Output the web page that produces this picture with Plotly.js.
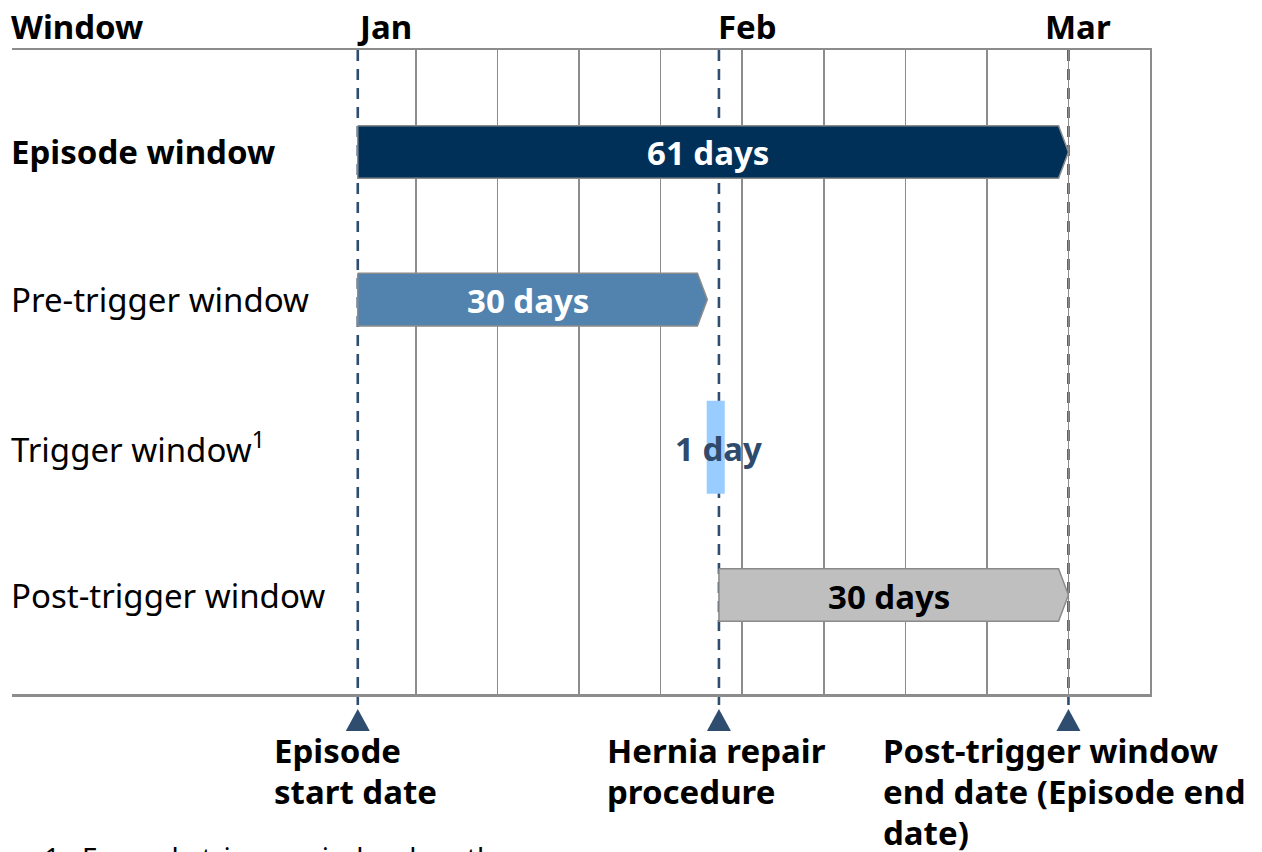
<!DOCTYPE html>
<html>
<head>
<meta charset="utf-8">
<script src="https://cdn.plot.ly/plotly-3.0.1.min.js"></script>
<style>html,body{margin:0;padding:0;background:#fff;}#chart{width:1262px;height:852px;}</style>
</head>
<body>
<div id="chart"></div>
<script>
// ---- data ----
const categories = ['<b>Episode window</b>', 'Pre-trigger window', 'Trigger window<sup>1</sup>', 'Post-trigger window'];
const startDay = [0, 0, 29.95, 31];
const endDay = [61, 30, 31.5, 61];
const barLabels = ['61 days', '30 days', '1 day', '30 days'];
const hasArrow = [true, true, false, true];
const monthNames = ['Jan', 'Feb', 'Mar'];
const monthLabelDay = [0, 31, 59.1];
const markerDays = [0, 31, 61];
const markerLabels = ['Episode<br>start date', 'Hernia repair<br>procedure', 'Post-trigger window<br>end date (Episode end<br>date)'];
const gridDays = [5, 12, 19, 26, 33, 40, 47, 54, 61, 68];
const footnote = '1.  Example trigger window length';

// ---- styles ----
const fillColors = ['#003057', '#5283af', '#99ccff', '#bfbfbf'];
const lineColors = ['#8a8a8a', '#8a8a8a', 'rgba(0,0,0,0)', '#8a8a8a'];
const labelColors = ['#ffffff', '#ffffff', '#2e4a6c', '#000000'];
const halfH = [0.178, 0.178, 0.315, 0.178];
const tip = 0.85;
const FONT = 'Noto Sans';
const FS = 33;
const navy = '#2f4d6f';

const traces = [];
for (let i = 0; i < categories.length; i++) {
  const s = startDay[i], e = endDay[i], h = halfH[i];
  const t = hasArrow[i] ? tip : 0;
  const xs = hasArrow[i] ? [s, e - t, e, e - t, s, s] : [s, e, e, s, s];
  const ys = hasArrow[i] ? [i - h, i - h, i, i + h, i + h, i - h] : [i - h, i - h, i + h, i + h, i - h];
  traces.push({
    type: 'scatter', mode: 'lines', x: xs, y: ys, fill: 'toself',
    fillcolor: fillColors[i], line: {color: lineColors[i], width: 1.5},
    hoverinfo: 'skip', showlegend: false
  });
}

const shapes = [];
const yBottomPaper = -(705 - 694) / 644;
markerDays.forEach(d => {
  shapes.push({type: 'line', xref: 'x', yref: 'paper', x0: d, x1: d, y0: 1, y1: yBottomPaper,
    line: {color: navy, width: 2.6, dash: '11px,8px'}, layer: 'below'});
  const yb = -(731 - 694) / 644, yt = -(709 - 694) / 644, w = 1.03;
  shapes.push({type: 'path', xref: 'x', yref: 'paper',
    path: `M ${d - w},${yb} L ${d + w},${yb} L ${d},${yt} Z`,
    fillcolor: navy, line: {width: 0}, layer: 'above'});
});

const annotations = [];
// bar labels
for (let i = 0; i < categories.length; i++) {
  const t = hasArrow[i] ? tip : 0;
  annotations.push({xref: 'x', yref: 'y', x: (startDay[i] + endDay[i] - t) / 2 + (hasArrow[i] ? 0 : 0.2), y: i,
    xanchor: 'center', yanchor: 'middle', yshift: -1, showarrow: false,
    text: '<b>' + barLabels[i] + '</b>', font: {family: FONT, size: FS, color: labelColors[i]}});
}
annotations.push({xref: 'paper', yref: 'paper', x: 0, y: (694 - 27) / 644, xanchor: 'left', yanchor: 'middle', xshift: -3,
  text: '<b>Window</b>', showarrow: false, font: {family: FONT, size: FS, color: '#000'}});
monthNames.forEach((m, i) => {
  annotations.push({xref: 'x', yref: 'paper', x: monthLabelDay[i], y: (694 - 27) / 644, xanchor: 'left', yanchor: 'middle', xshift: -3,
    text: '<b>' + m + '</b>', showarrow: false, font: {family: FONT, size: FS, color: '#000'}});
});
categories.forEach((c, i) => {
  annotations.push({xref: 'paper', yref: 'y', x: 0, y: i, xanchor: 'left', yanchor: 'middle', xshift: -3,
    text: c, showarrow: false, font: {family: FONT, size: FS, color: '#000'}});
});
const markerLabelPx = [275, 608, 884];
const lineTopPx = [726, 767, 808];
markerLabels.forEach((t, i) => {
  t.split('<br>').forEach((line, j) => {
    annotations.push({xref: 'paper', yref: 'paper', x: (markerLabelPx[i] - 12) / 1138, y: -(lineTopPx[j] - 694) / 644,
      xanchor: 'left', yanchor: 'top', align: 'left', xshift: -3,
      text: '<b>' + line + '</b>', showarrow: false, font: {family: FONT, size: FS, color: '#000'}});
  });
});
annotations.push({xref: 'paper', yref: 'paper', x: (45 - 12) / 1138, y: -(836 - 694) / 644,
  xanchor: 'left', yanchor: 'top', align: 'left', xshift: -3, text: footnote, showarrow: false,
  font: {family: FONT, size: 28, color: '#000'}});

const layout = {
  width: 1262, height: 852,
  margin: {l: 12, r: 112, t: 50, b: 158},
  paper_bgcolor: '#fff', plot_bgcolor: '#fff',
  xaxis: {range: [-29.68, 68], tickvals: gridDays, showticklabels: false, ticks: '',
    showgrid: true, gridcolor: '#8c8c8c', gridwidth: 1.5, zeroline: false,
    showline: true, mirror: true, linecolor: '#8c8c8c', linewidth: 2.5, fixedrange: true},
  yaxis: {range: [3.67, -0.69], showgrid: false, zeroline: false, showticklabels: false, ticks: '',
    showline: true, side: 'right', linecolor: '#8c8c8c', linewidth: 2, fixedrange: true},
  shapes: shapes,
  annotations: annotations,
  showlegend: false,
  font: {family: FONT}
};

Plotly.newPlot('chart', traces, layout, {displayModeBar: false, staticPlot: true});
</script>
</body>
</html>
